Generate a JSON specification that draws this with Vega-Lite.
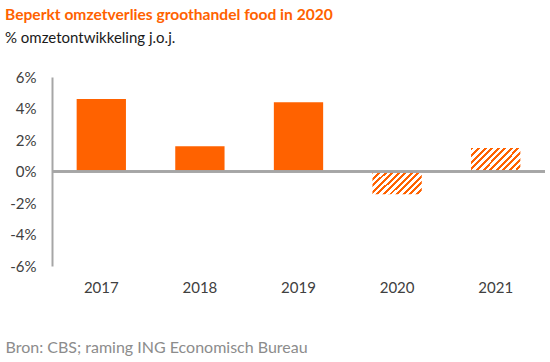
{
  "$schema": "https://vega.github.io/schema/vega-lite/v6.json",
  "autosize": {"type": "none"},
  "width": 493,
  "height": 189,
  "padding": {"left": 52, "top": 77, "right": 5, "bottom": 96},
  "background": "white",
  "config": {
    "font": "Lato",
    "view": {"stroke": null},
    "axisY": {"labelOverlap": false}
  },
  "title": {
    "text": "Beperkt omzetverlies groothandel food in 2020",
    "subtitle": "% omzetontwikkeling j.o.j.",
    "anchor": "start",
    "frame": "group",
    "dx": -47,
    "offset": 24,
    "font": "Lato",
    "fontSize": 15.6,
    "fontWeight": "bold",
    "color": "#FF6200",
    "subtitleFont": "Lato",
    "subtitleFontSize": 15,
    "subtitleColor": "#1a1a1a",
    "subtitlePadding": 7
  },
  "data": {
    "values": [
      {"jaar": "2017", "waarde": 4.6, "raming": false},
      {"jaar": "2018", "waarde": 1.6, "raming": false},
      {"jaar": "2019", "waarde": 4.4, "raming": false},
      {"jaar": "2020", "waarde": -1.45, "raming": true},
      {"jaar": "2021", "waarde": 1.5, "raming": true}
    ]
  },
  "encoding": {
    "x": {
      "field": "jaar",
      "type": "nominal",
      "sort": null,
      "scale": {"paddingInner": 0.5, "paddingOuter": 0.25},
      "axis": {
        "title": "Bron: CBS; raming ING Economisch Bureau",
        "titleAnchor": "start",
        "titleX": -47,
        "titleY": 86,
        "titleBaseline": "alphabetic",
        "titleFont": "Lato",
        "titleFontSize": 16,
        "titleFontWeight": "normal",
        "titleColor": "#8c8c8c",
        "labelAngle": 0,
        "labelFont": "Lato",
        "labelFontSize": 15,
        "labelColor": "#404040",
        "labelPadding": 14,
        "domain": false,
        "ticks": false
      }
    },
    "y": {
      "field": "waarde",
      "type": "quantitative",
      "scale": {"domain": [-6, 6], "nice": false},
      "axis": {
        "title": null,
        "values": [-6, -4, -2, 0, 2, 4, 6],
        "labelExpr": "datum.value + '%'",
        "labelOverlap": false,
        "labelFont": "Lato",
        "labelFontSize": 15,
        "labelColor": "#404040",
        "labelPadding": 16,
        "domain": true,
        "domainColor": "#a6a6a6",
        "domainWidth": 2,
        "ticks": false,
        "grid": false
      }
    }
  },
  "layer": [
    {
      "transform": [{"filter": "!datum.raming"}],
      "mark": {"type": "bar", "color": "#FF6200"}
    },
    {
      "transform": [{"filter": "datum.raming"}],
      "mark": {
        "type": "bar",
        "color": {
          "gradient": "linear",
          "x1": 0, "y1": 0, "x2": 1.2, "y2": 0.565,
          "stops": [
            {"offset": 0.0, "color": "#FF6200"}, {"offset": 0.041, "color": "#FF6200"}, {"offset": 0.041, "color": "#ffffff"}, {"offset": 0.0909, "color": "#ffffff"},
            {"offset": 0.0909, "color": "#FF6200"}, {"offset": 0.132, "color": "#FF6200"}, {"offset": 0.132, "color": "#ffffff"}, {"offset": 0.1818, "color": "#ffffff"},
            {"offset": 0.1818, "color": "#FF6200"}, {"offset": 0.223, "color": "#FF6200"}, {"offset": 0.223, "color": "#ffffff"}, {"offset": 0.2727, "color": "#ffffff"},
            {"offset": 0.2727, "color": "#FF6200"}, {"offset": 0.314, "color": "#FF6200"}, {"offset": 0.314, "color": "#ffffff"}, {"offset": 0.3636, "color": "#ffffff"},
            {"offset": 0.3636, "color": "#FF6200"}, {"offset": 0.405, "color": "#FF6200"}, {"offset": 0.405, "color": "#ffffff"}, {"offset": 0.4545, "color": "#ffffff"},
            {"offset": 0.4545, "color": "#FF6200"}, {"offset": 0.495, "color": "#FF6200"}, {"offset": 0.495, "color": "#ffffff"}, {"offset": 0.5454, "color": "#ffffff"},
            {"offset": 0.5454, "color": "#FF6200"}, {"offset": 0.586, "color": "#FF6200"}, {"offset": 0.586, "color": "#ffffff"}, {"offset": 0.6363, "color": "#ffffff"},
            {"offset": 0.6363, "color": "#FF6200"}, {"offset": 0.677, "color": "#FF6200"}, {"offset": 0.677, "color": "#ffffff"}, {"offset": 0.7272, "color": "#ffffff"},
            {"offset": 0.7272, "color": "#FF6200"}, {"offset": 0.768, "color": "#FF6200"}, {"offset": 0.768, "color": "#ffffff"}, {"offset": 0.8181, "color": "#ffffff"},
            {"offset": 0.8181, "color": "#FF6200"}, {"offset": 0.859, "color": "#FF6200"}, {"offset": 0.859, "color": "#ffffff"}, {"offset": 0.9090, "color": "#ffffff"},
            {"offset": 0.9090, "color": "#FF6200"}, {"offset": 0.95, "color": "#FF6200"}, {"offset": 0.95, "color": "#ffffff"}, {"offset": 1.0, "color": "#ffffff"}
          ]
        }
      }
    },
    {
      "mark": {"type": "rule", "color": "#a6a6a6", "strokeWidth": 2},
      "encoding": {"y": {"datum": 0}, "x": null}
    }
  ]
}
